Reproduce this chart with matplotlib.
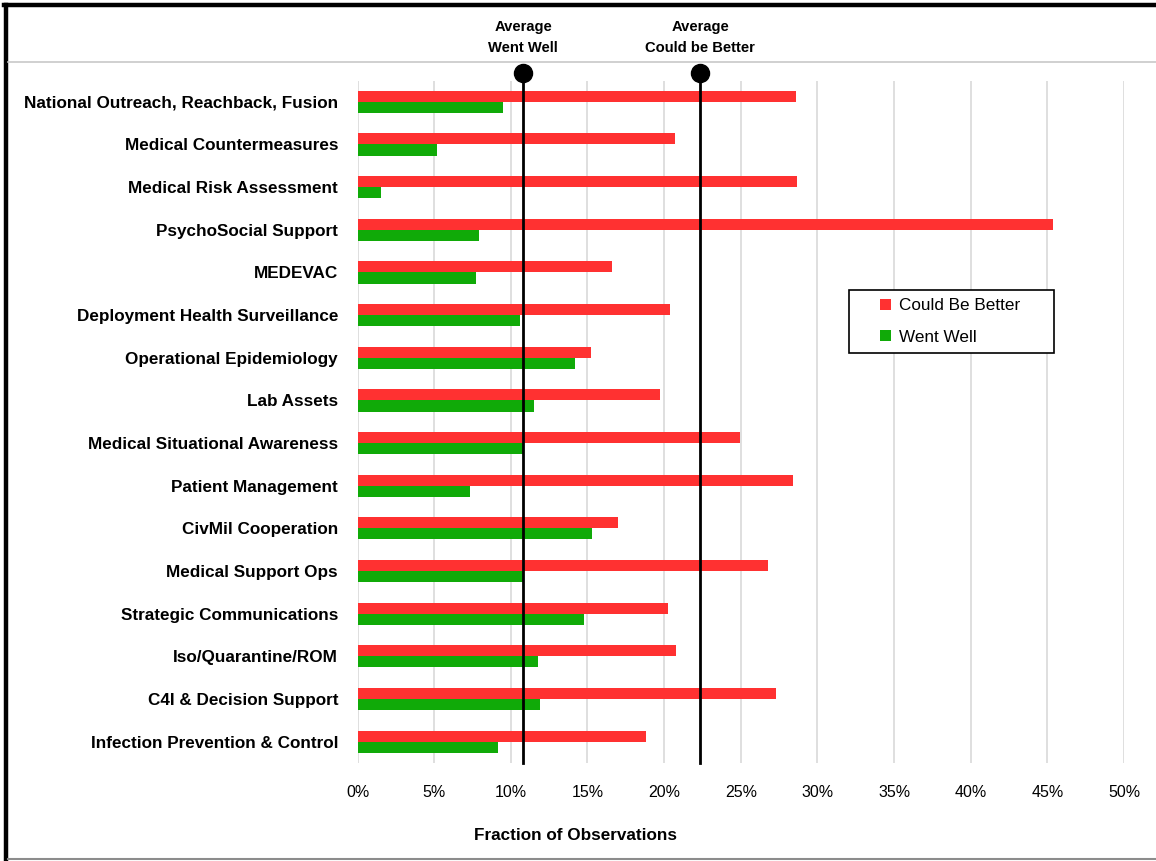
import matplotlib.pyplot as plt
from matplotlib.lines import Line2D
from matplotlib.patches import Rectangle
from matplotlib.ticker import PercentFormatter
import numpy as np

categories = [
    'National Outreach, Reachback, Fusion',
    'Medical Countermeasures',
    'Medical Risk Assessment',
    'PsychoSocial Support',
    'MEDEVAC',
    'Deployment Health Surveillance',
    'Operational Epidemiology',
    'Lab Assets',
    'Medical Situational Awareness',
    'Patient Management',
    'CivMil Cooperation',
    'Medical Support Ops',
    'Strategic Communications',
    'Iso/Quarantine/ROM',
    'C4I & Decision Support',
    'Infection Prevention & Control',
]
could_be_better = [28.6, 20.7, 28.7, 45.4, 16.6, 20.4, 15.2, 19.7,
                   24.95, 28.4, 16.97, 26.8, 20.25, 20.8, 27.3, 18.8]
went_well = [9.49, 5.16, 1.51, 7.95, 7.73, 10.6, 14.2, 11.5,
             10.8, 7.36, 15.3, 10.8, 14.8, 11.8, 11.9, 9.16]
avg_went_well = 10.8
avg_could_be_better = 22.35

RED = '#FF3131'
GREEN = '#10AA08'
FONT = 'Liberation Sans'

fig = plt.figure(figsize=(11.56, 8.61), dpi=100)
ax = fig.add_axes([0.3093, 0.1138, 0.663, 0.7927])

y = np.arange(len(categories))
h = 0.26
ax.barh(y - h / 2, could_be_better, height=h, color=RED, label='Could Be Better', zorder=2)
ax.barh(y + h / 2, went_well, height=h, color=GREEN, label='Went Well', zorder=2)

ax.set_ylim(len(categories) - 0.5, -0.5)
ax.set_xlim(0, 50)
ax.set_xticks(np.arange(0, 51, 5))
ax.xaxis.set_major_formatter(PercentFormatter(decimals=0))
ax.set_yticks(y)
ax.set_yticklabels(categories, fontsize=12.3, fontweight='bold', family=FONT)
for lab in ax.get_xticklabels():
    lab.set_family(FONT)
    lab.set_fontsize(11.5)
ax.tick_params(axis='both', length=0)
ax.tick_params(axis='y', pad=14)
ax.tick_params(axis='x', pad=16)
ax.grid(axis='x', color='#D9D9D9', linewidth=1.2, zorder=0)
for s in ax.spines.values():
    s.set_visible(False)
fig.text(0.498, 1 - 836 / 861, 'Fraction of Observations', fontsize=12.3,
         fontweight='bold', family=FONT, ha='center', va='center')

# average markers: lines with a dot sticking above the plot area
xt = ax.get_xaxis_transform()
for avg, txt in [(avg_went_well, 'Average\nWent Well'),
                 (avg_could_be_better, 'Average\nCould be Better')]:
    ax.plot([avg, avg], [0, 1.0115], transform=xt, color='black', lw=2,
            clip_on=False, zorder=4)
    ax.plot([avg], [1.0115], transform=xt, marker='o', ms=13, color='black',
            clip_on=False, zorder=5)
    ax.text(avg, 1.063, txt, transform=xt, ha='center', va='center',
            fontsize=10.6, fontweight='bold', family=FONT, linespacing=1.6)

# legend box drawn separately so it keeps the wide Excel-style padding
fig.add_artist(Rectangle((849 / 1156, 1 - 353 / 861), 205 / 1156, 63 / 861,
                         transform=fig.transFigure, facecolor='white',
                         edgecolor='black', lw=1.2, zorder=6))
leg = fig.legend(*ax.get_legend_handles_labels(), loc='center left',
                 bbox_to_anchor=(880 / 1156, 1 - 321.5 / 861), frameon=False,
                 handlelength=0.65, handleheight=0.65, handletextpad=0.45,
                 borderpad=0, labelspacing=0.95, borderaxespad=0,
                 prop={'family': FONT, 'size': 12.3})
leg.set_zorder(7)

# frame around the figure and header separator
fig.add_artist(Line2D([0.0052, 0.0052], [0, 0.9942], color='black', lw=3.2))
fig.add_artist(Line2D([0.0035, 1], [0.9942, 0.9942], color='black', lw=3.2))
fig.add_artist(Line2D([0.007, 1], [0.928, 0.928], color='#C8C8C8', lw=1.2))
fig.add_artist(Line2D([0.007, 1], [0.0023, 0.0023], color='#8C8C8C', lw=1.5))

fig.savefig('out.png', dpi=100)
